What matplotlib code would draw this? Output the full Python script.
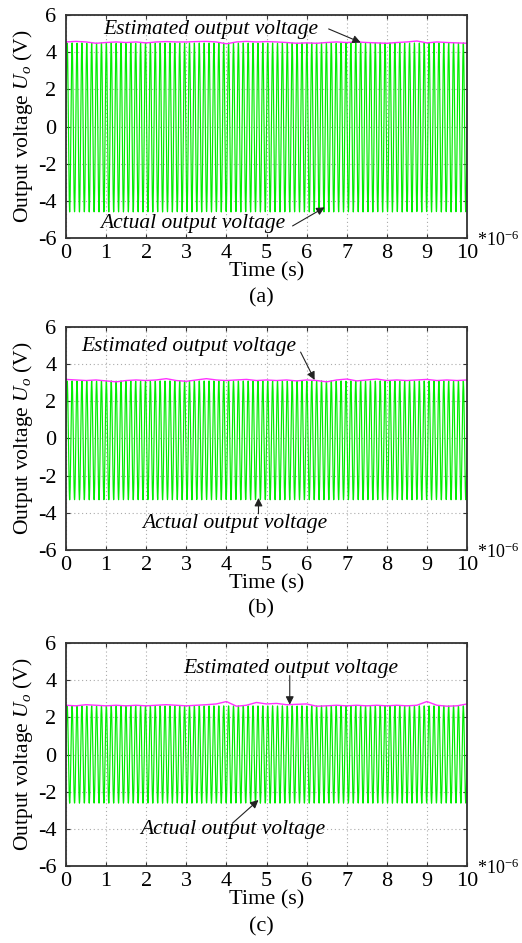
import numpy as np
import matplotlib.pyplot as plt

plt.rcParams['font.family'] = ['Liberation Serif', 'DejaVu Serif']
plt.rcParams['mathtext.fontset'] = 'custom'
plt.rcParams['mathtext.rm'] = 'Liberation Serif'
plt.rcParams['mathtext.it'] = 'Liberation Serif:italic'
plt.rcParams['axes.unicode_minus'] = False

# time axis in microseconds
t_end = 10.0
carrier_freq = 8.2        # cycles per microsecond
sample_step = 0.004       # simulation step, microseconds

# peak / trough of the actual output for each case
actual_top = [4.50, 3.10, 2.62]
actual_bottom = [-4.60, -3.30, -2.62]

# estimated output voltage, read every 0.25 us
est_time = np.arange(0, 10.01, 0.25)
est_a = [4.55, 4.58, 4.55, 4.48, 4.52, 4.55, 4.52, 4.55, 4.50, 4.55, 4.57,
         4.55, 4.55, 4.57, 4.58, 4.55, 4.45, 4.55, 4.58, 4.55, 4.57, 4.55,
         4.52, 4.48, 4.50, 4.48, 4.52, 4.55, 4.52, 4.55, 4.52, 4.50, 4.48,
         4.52, 4.55, 4.60, 4.50, 4.55, 4.52, 4.50, 4.48]
est_b = [3.18, 3.15, 3.12, 3.15, 3.10, 3.05, 3.12, 3.15, 3.12, 3.15, 3.22,
         3.12, 3.08, 3.15, 3.22, 3.15, 3.12, 3.15, 3.18, 3.12, 3.15, 3.12,
         3.15, 3.10, 3.15, 3.12, 3.05, 3.15, 3.20, 3.10, 3.15, 3.20, 3.12,
         3.15, 3.12, 3.15, 3.18, 3.12, 3.15, 3.12, 3.15]
est_c = [2.65, 2.62, 2.68, 2.65, 2.62, 2.65, 2.62, 2.65, 2.62, 2.65, 2.68,
         2.65, 2.62, 2.65, 2.68, 2.72, 2.85, 2.60, 2.65, 2.80, 2.72, 2.75,
         2.68, 2.70, 2.72, 2.60, 2.62, 2.65, 2.62, 2.65, 2.62, 2.65, 2.62,
         2.65, 2.62, 2.65, 2.85, 2.65, 2.60, 2.62, 2.72]
estimated = [est_a, est_b, est_c]

xticks = list(range(0, 11))
yticks = [-6, -4, -2, 0, 2, 4, 6]
panel_names = ['(a)', '(b)', '(c)']

# text position, arrow tail and arrow head (data coords) for each case
est_label = [(3.6, 5.2), (3.05, 4.95), (5.6, 4.65)]
est_arrow = [((6.55, 5.25), (7.35, 4.52)), ((5.85, 4.65), (6.2, 3.15)),
             ((5.58, 4.25), (5.58, 2.68))]
act_label = [(3.15, -5.2), (4.2, -4.6), (4.15, -4.05)]
act_arrow = [((5.65, -5.35), (6.45, -4.35)), ((4.8, -4.05), (4.8, -3.2)),
             ((4.15, -3.7), (4.8, -2.45))]

fig = plt.figure(figsize=(5.22, 9.43), dpi=100)
axes_bottom_px = [238, 550, 866]
label_px = [298, 609, 927]
t = np.arange(0, t_end + sample_step / 2, sample_step)

for i in range(3):
    ax = fig.add_axes([66 / 522, 1 - axes_bottom_px[i] / 943,
                       401 / 522, 223 / 943])
    offset = (actual_top[i] + actual_bottom[i]) / 2
    amp = (actual_top[i] - actual_bottom[i]) / 2
    u_actual = offset + amp * np.sin(2 * np.pi * carrier_freq * t)
    ax.plot(t, u_actual, color='#00ee00', lw=0.85)
    ax.plot(est_time, estimated[i], color='#ff33ff', lw=1.0)

    ax.set_xlim(0, 10)
    ax.set_ylim(-6, 6)
    ax.set_xticks(xticks)
    ax.set_yticks(yticks)
    ax.tick_params(direction='in', length=3, top=True, right=True,
                   labelsize=16, color='#333333')
    ax.tick_params(axis='y', pad=7)
    ax.tick_params(axis='x', pad=4)
    ax.grid(True, color='#aaaaaa', linestyle=(0, (1, 2.5)), lw=0.8)
    for s in ax.spines.values():
        s.set_color('#333333')
        s.set_linewidth(1.3)
    ax.set_xlabel('Time (s)', fontsize=16, labelpad=0)
    ax.set_ylabel('Output voltage $U_o$ (V)', fontsize=15.5, labelpad=2)

    ax.text(*est_label[i], 'Estimated output voltage', fontsize=15.5,
            style='italic', ha='center', va='center')
    ax.text(*act_label[i], 'Actual output voltage', fontsize=15.5,
            style='italic', ha='center', va='center')
    for tail, head in (est_arrow[i], act_arrow[i]):
        ax.annotate('', xy=head, xytext=tail,
                    arrowprops=dict(arrowstyle='-|>', color='#222222',
                                    lw=0.8, mutation_scale=12,
                                    shrinkA=0, shrinkB=0))

    # axis multiplier, right of the x axis
    fig.text(519 / 522, 1 - (axes_bottom_px[i] + 2) / 943, r'*10$^{-6}$',
             fontsize=13, ha='right', va='center')
    fig.text(0.5, 1 - label_px[i] / 943, panel_names[i],
             fontsize=16, ha='center', va='center')

fig.savefig('out.png', dpi=100)
